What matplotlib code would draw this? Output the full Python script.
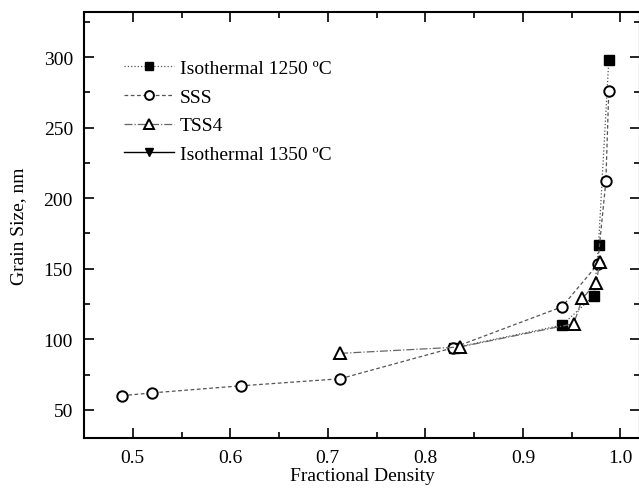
import matplotlib
matplotlib.use('Agg')
import matplotlib.pyplot as plt
from matplotlib.ticker import MultipleLocator

plt.rcParams['font.family'] = ['Liberation Serif', 'DejaVu Serif']
plt.rcParams['font.size'] = 14

# data
iso1250_x = [0.8295, 0.940, 0.973, 0.9775, 0.988]
iso1250_y = [94, 110, 131, 167, 298]

sss_x = [0.489, 0.520, 0.611, 0.7126, 0.8285, 0.940, 0.9765, 0.985, 0.988]
sss_y = [60, 62, 67, 72, 94, 123, 153, 212, 276]

tss4_x = [0.7126, 0.835, 0.952, 0.961, 0.975, 0.979]
tss4_y = [90, 94.5, 111, 129, 140, 155]

iso1350_x = []
iso1350_y = []

fig = plt.figure(figsize=(6.39, 4.89), dpi=100)
ax = fig.add_axes([84/639, 50/489, 556/639, 426/489])

ax.plot(iso1250_x, iso1250_y, color='#555555', ls=':', lw=0.9, marker='s', ms=7,
        mfc='black', mec='black', label='Isothermal 1250 \u00baC')
ax.plot(sss_x, sss_y, color='#555555', ls=(0, (3, 2)), lw=0.9, marker='o', ms=7.5,
        mfc='white', mec='black', mew=1.4, label='SSS')
ax.plot(tss4_x, tss4_y, color='#666666', ls='-.', lw=0.9, marker='^', ms=8,
        mfc='white', mec='black', mew=1.4, label='TSS4')
ax.plot(iso1350_x, iso1350_y, color='black', ls='-', lw=1.0, marker='v', ms=7,
        mfc='black', mec='black', label='Isothermal 1350 \u00baC')

ax.set_xlim(0.45, 1.02)
ax.set_ylim(30, 332)
ax.xaxis.set_major_locator(MultipleLocator(0.1))
ax.xaxis.set_minor_locator(MultipleLocator(0.05))
ax.yaxis.set_major_locator(MultipleLocator(50))
ax.yaxis.set_minor_locator(MultipleLocator(25))
ax.set_xticks([0.5, 0.6, 0.7, 0.8, 0.9, 1.0])
ax.set_xticklabels(['0.5', '0.6', '0.7', '0.8', '0.9', '1.0'])
ax.tick_params(which='both', direction='in', top=True, right=True, width=1.2)
ax.tick_params(which='major', length=7, pad=8)
ax.tick_params(which='minor', length=4)
for s in ax.spines.values():
    s.set_linewidth(1.5)

ax.set_xlabel('Fractional Density', labelpad=1)
ax.set_ylabel('Grain Size, nm', labelpad=12)

ax.legend(loc='upper left', bbox_to_anchor=(0.04, 0.93), frameon=False,
          handlelength=2.6, handletextpad=0.3, labelspacing=0.57, borderaxespad=0.5,
          markerscale=0.85)

fig.savefig('out.png', dpi=100)
